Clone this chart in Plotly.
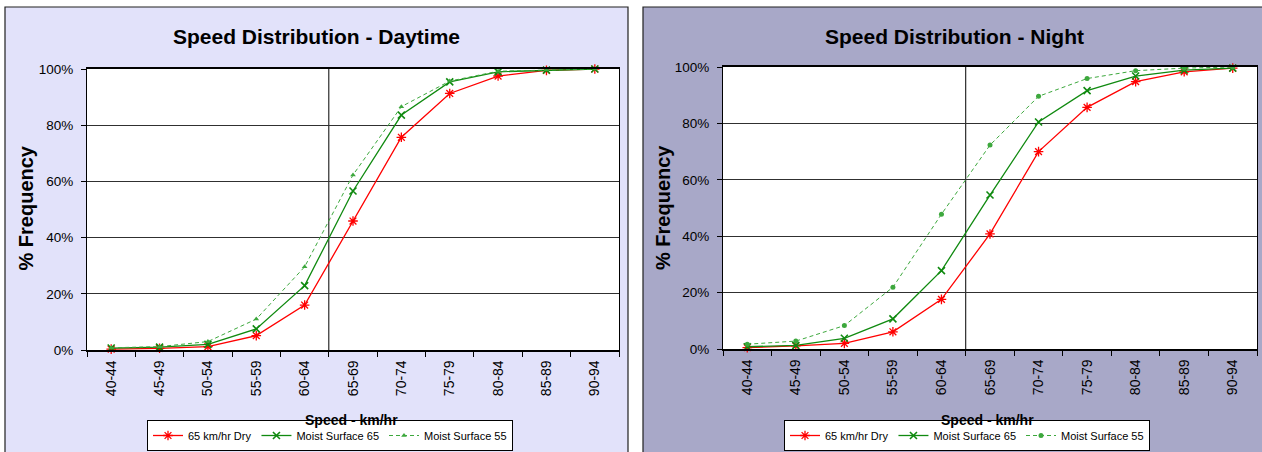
import plotly.graph_objects as go

# ---------------- data ----------------
categories = ["40-44", "45-49", "50-54", "55-59", "60-64", "65-69",
              "70-74", "75-79", "80-84", "85-89", "90-94"]

day_dry = [0.3, 0.6, 1.2, 5.1, 16.0, 45.9, 75.7, 91.3, 97.5, 99.5, 100.0]
day_moist65 = [0.7, 1.0, 2.0, 7.5, 22.9, 56.6, 83.6, 95.4, 99.0, 99.6, 100.0]
day_moist55 = [0.8, 1.2, 3.0, 11.0, 29.6, 62.3, 86.6, 95.7, 99.2, 99.7, 100.0]

night_dry = [0.5, 1.1, 2.0, 6.1, 17.6, 40.8, 70.0, 85.7, 94.8, 98.3, 99.6]
night_moist65 = [0.8, 1.3, 3.8, 10.7, 27.8, 54.6, 80.5, 91.6, 96.8, 98.9, 99.6]
night_moist55 = [1.7, 2.8, 8.3, 21.9, 47.8, 72.3, 89.6, 95.9, 98.7, 99.6, 100.0]

series_names = ["65 km/hr Dry", "Moist Surface 65", "Moist Surface 55"]
titles = ["Speed Distribution - Daytime", "Speed Distribution - Night"]
x_title = "Speed - km/hr"
y_title = "% Frequency"
y_ticks = [0, 20, 40, 60, 80, 100]
y_ticktext = ["0%", "20%", "40%", "60%", "80%", "100%"]

# ---------------- layout geometry ----------------
W, H = 1262, 452
FONT = "Liberation Sans, Arial, sans-serif"
RED = "#FF0000"
GREEN = "#108A10"
LGREEN = "#3DA83D"


def px_x(v):
    return v / W


def px_y(v):
    return 1 - v / H


panels = [
    dict(x0=5, x1=628, bg="#E2E2FA", plot=(87, 619, 69, 350)),
    dict(x0=643, x1=1275, bg="#A8A8C8", plot=(723, 1257, 67, 349)),
]

fig = go.Figure()

datasets = [
    (day_dry, day_moist65, day_moist55, "triangle-up"),
    (night_dry, night_moist65, night_moist55, "circle"),
]

for i, (d1, d2, d3, sym55) in enumerate(datasets):
    xa = "x" if i == 0 else "x2"
    ya = "y" if i == 0 else "y2"
    lg = "legend" if i == 0 else "legend2"
    fig.add_trace(go.Scatter(
        x=categories, y=d1, name=series_names[0], xaxis=xa, yaxis=ya, legend=lg,
        mode="lines+markers", cliponaxis=False,
        line=dict(color=RED, width=1.3),
        marker=dict(symbol="asterisk-open", size=8, color=RED,
                    line=dict(color=RED, width=1.3))))
    fig.add_trace(go.Scatter(
        x=categories, y=d2, name=series_names[1], xaxis=xa, yaxis=ya, legend=lg,
        mode="lines+markers", cliponaxis=False,
        line=dict(color=GREEN, width=1.3),
        marker=dict(symbol="x-thin-open", size=7, color=GREEN,
                    line=dict(color=GREEN, width=1.6))))
    fig.add_trace(go.Scatter(
        x=categories, y=d3, name=series_names[2], xaxis=xa, yaxis=ya, legend=lg,
        mode="lines+markers", cliponaxis=False,
        line=dict(color=LGREEN, width=1, dash="4px,3px"),
        marker=dict(symbol=sym55, size=5, color=LGREEN)))

shapes = []
annotations = []
axis_common = dict(showgrid=False, showline=True, linecolor="#000000",
                   linewidth=1, mirror=True, ticks="outside", ticklen=5,
                   tickcolor="#000000", zeroline=False, fixedrange=True,
                   automargin=False)

for i, p in enumerate(panels):
    l, r, t, b = p["plot"]
    # panel background
    shapes.append(dict(type="rect", xref="paper", yref="paper",
                       x0=px_x(p["x0"]), x1=px_x(p["x1"]), y0=-0.05, y1=px_y(7),
                       fillcolor=p["bg"], line=dict(color="#202020", width=1.2),
                       layer="below"))
    # white plot area
    shapes.append(dict(type="rect", xref="paper", yref="paper",
                       x0=px_x(l), x1=px_x(r), y0=px_y(b), y1=px_y(t),
                       fillcolor="#FFFFFF", line=dict(width=0), layer="below"))
    sfx = "" if i == 0 else "2"
    # vertical crossing line between 60-64 and 65-69
    shapes.append(dict(type="line", xref="x" + sfx, yref="y" + sfx + " domain",
                       x0=4.5, x1=4.5, y0=0, y1=1,
                       line=dict(color="#000000", width=1), layer="below"))

    fig.layout["xaxis" + sfx] = dict(
        axis_common, type="category", domain=[px_x(l), px_x(r)],
        anchor="y" + sfx, range=[-0.5, 10.5], tickson="boundaries",
        tickangle=-90, ticklabelstandoff=3,
        tickfont=dict(family=FONT, size=14, color="#000000"),
        linewidth=1.5)
    fig.layout["yaxis" + sfx] = dict(
        axis_common, domain=[px_y(b), px_y(t)], anchor="x" + sfx,
        range=[0, 100], tickmode="array", tickvals=y_ticks, ticktext=y_ticktext,
        showgrid=True, gridcolor="#303030", gridwidth=1,
        ticklabelstandoff=5,
        tickfont=dict(family=FONT, size=13.5, color="#000000"))

    cx = (l + r) / 2
    annotations.append(dict(text="<b>" + titles[i] + "</b>", xref="paper", yref="paper",
                            x=px_x(316 if i == 0 else 954), y=px_y(37),
                            xanchor="center", yanchor="middle", showarrow=False,
                            font=dict(family=FONT, size=21, color="#000000")))
    annotations.append(dict(text="<b>" + x_title + "</b>", xref="paper", yref="paper",
                            x=px_x(cx - 2), y=px_y(420),
                            xanchor="center", yanchor="middle", showarrow=False,
                            font=dict(family=FONT, size=14, color="#000000")))
    annotations.append(dict(text="<b>" + y_title + "</b>", xref="paper", yref="paper",
                            x=px_x(p["x0"] + 20), y=px_y((t + b) / 2 - 1),
                            xanchor="center", yanchor="middle", showarrow=False,
                            textangle=-90,
                            font=dict(family=FONT, size=20, color="#000000")))

legend_common = dict(orientation="h", xanchor="center", yanchor="bottom",
                     bgcolor="#FFFFFF", bordercolor="#000000", borderwidth=1,
                     font=dict(family=FONT, size=11, color="#000000"),
                     itemwidth=30, tracegroupgap=0, itemclick=False,
                     itemdoubleclick=False)

fig.update_layout(
    width=W, height=H,
    margin=dict(l=0, r=0, t=0, b=0, pad=0, autoexpand=False),
    paper_bgcolor="#FFFFFF", plot_bgcolor="rgba(0,0,0,0)",
    showlegend=True,
    legend=dict(legend_common, x=px_x(330), y=px_y(451)),
    legend2=dict(legend_common, x=px_x(967), y=px_y(451)),
    shapes=shapes, annotations=annotations,
    font=dict(family=FONT, color="#000000"),
)

fig.write_html("out.html", config={"displayModeBar": False},
               post_script="document.body.style.margin='0';document.body.style.overflow='hidden';")
